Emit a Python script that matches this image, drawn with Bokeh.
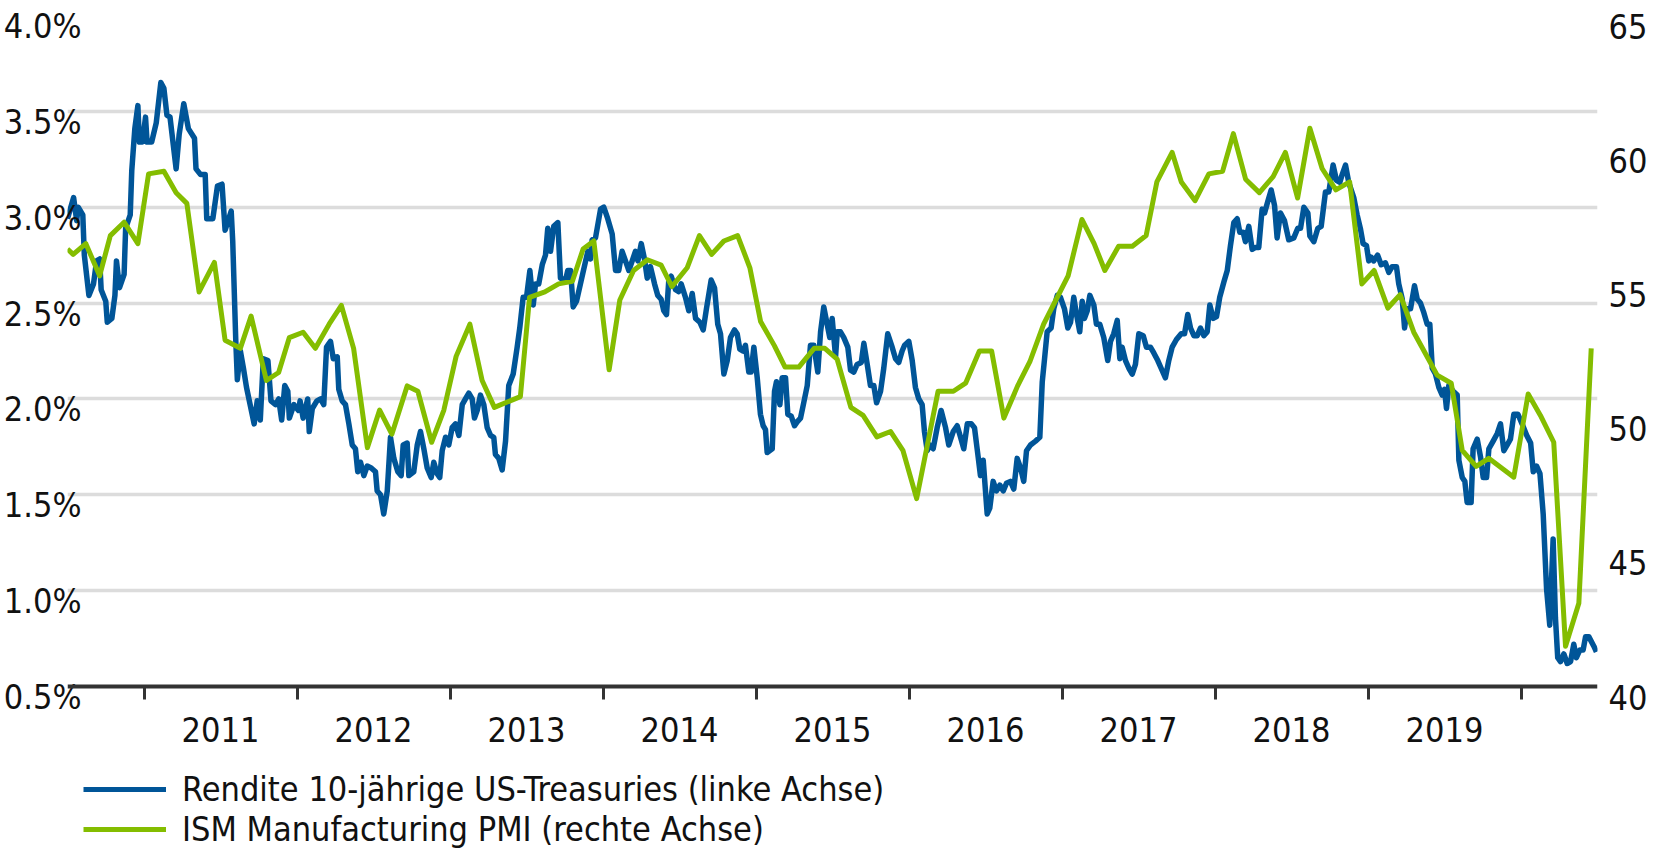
from bokeh.plotting import figure
from bokeh.layouts import column
from bokeh.models import (Range1d, LinearAxis, FixedTicker, CustomJSTickFormatter,
                          Legend, LegendItem, Span)
from bokeh.embed import file_html
from bokeh.resources import INLINE

# ---------------- data ----------------
# 10-year US Treasury yield (weekly, %), x = decimal year
yield_year = [
    2010.500, 2010.540, 2010.560, 2010.570, 2010.600, 2010.610, 2010.640, 2010.670, 2010.690, 2010.710,
    2010.720, 2010.750, 2010.760, 2010.790, 2010.810, 2010.820, 2010.840, 2010.870, 2010.880, 2010.910,
    2010.920, 2010.940, 2010.960, 2010.970, 2010.990, 2011.010, 2011.020, 2011.050, 2011.080, 2011.110,
    2011.130, 2011.150, 2011.170, 2011.210, 2011.230, 2011.260, 2011.290, 2011.330, 2011.340, 2011.370,
    2011.400, 2011.410, 2011.450, 2011.480, 2011.510, 2011.530, 2011.570, 2011.580, 2011.600, 2011.610,
    2011.630, 2011.650, 2011.670, 2011.720, 2011.740, 2011.760, 2011.780, 2011.810, 2011.830, 2011.860,
    2011.880, 2011.900, 2011.920, 2011.940, 2011.950, 2011.980, 2012.010, 2012.020, 2012.040, 2012.070,
    2012.080, 2012.100, 2012.130,
    2012.154, 2012.175, 2012.193, 2012.219, 2012.237, 2012.263, 2012.273, 2012.295, 2012.317, 2012.339,
    2012.361, 2012.382, 2012.397, 2012.415, 2012.437, 2012.459, 2012.485, 2012.513, 2012.524, 2012.546,
    2012.567, 2012.590, 2012.611, 2012.633, 2012.659, 2012.681, 2012.694, 2012.720, 2012.731, 2012.763,
    2012.786, 2012.807, 2012.829, 2012.851, 2012.877, 2012.894, 2012.916, 2012.933, 2012.949, 2012.971,
    2012.992, 2013.014, 2013.036, 2013.058, 2013.080, 2013.101, 2013.123, 2013.145, 2013.160, 2013.178,
    2013.199, 2013.221, 2013.243, 2013.265, 2013.286, 2013.297, 2013.319, 2013.341, 2013.363, 2013.384,
    2013.413, 2013.439, 2013.456, 2013.478, 2013.500, 2013.522, 2013.544, 2013.559, 2013.580, 2013.603,
    2013.624, 2013.639, 2013.657, 2013.678, 2013.705, 2013.722, 2013.755, 2013.770, 2013.788, 2013.805,
    2013.827,
    2013.875, 2013.901, 2013.918, 2013.929, 2013.951, 2013.984, 2014.005, 2014.031, 2014.060, 2014.082,
    2014.103, 2014.125, 2014.147, 2014.169, 2014.191, 2014.212, 2014.228, 2014.250, 2014.271, 2014.289,
    2014.310, 2014.337, 2014.358, 2014.380, 2014.397, 2014.415, 2014.430, 2014.446, 2014.474, 2014.495,
    2014.511, 2014.539, 2014.561, 2014.583, 2014.605, 2014.633, 2014.655, 2014.676, 2014.707, 2014.729,
    2014.750, 2014.768, 2014.790, 2014.812, 2014.833, 2014.859, 2014.877, 2014.894, 2014.916, 2014.931,
    2014.953, 2014.968, 2014.986, 2015.008, 2015.029, 2015.047, 2015.062, 2015.073, 2015.106, 2015.121,
    2015.134, 2015.156, 2015.171, 2015.193, 2015.208, 2015.230, 2015.252, 2015.269, 2015.291, 2015.312,
    2015.335, 2015.356, 2015.378, 2015.404, 2015.422, 2015.443, 2015.465, 2015.482, 2015.498, 2015.520,
    2015.531,
    2015.552, 2015.574, 2015.600, 2015.618, 2015.639, 2015.661, 2015.688, 2015.705, 2015.727, 2015.748,
    2015.770, 2015.788, 2015.814, 2015.835, 2015.861, 2015.890, 2015.912, 2015.933, 2015.955, 2015.971,
    2015.999, 2016.021, 2016.042, 2016.064, 2016.086, 2016.101, 2016.119, 2016.136, 2016.158, 2016.184,
    2016.210, 2016.239, 2016.260, 2016.289, 2016.315, 2016.337, 2016.358, 2016.381, 2016.407, 2016.428,
    2016.450, 2016.467, 2016.485, 2016.511, 2016.528, 2016.550, 2016.572, 2016.594, 2016.616, 2016.637,
    2016.663, 2016.685, 2016.707, 2016.729, 2016.750, 2016.768, 2016.794, 2016.827, 2016.855, 2016.871,
    2016.886, 2016.903, 2016.929, 2016.946, 2016.969,
    2016.990, 2017.016, 2017.038, 2017.056, 2017.077, 2017.095, 2017.116, 2017.132, 2017.147, 2017.165,
    2017.182, 2017.208, 2017.225, 2017.247, 2017.273, 2017.299, 2017.317, 2017.338, 2017.361, 2017.378,
    2017.393, 2017.415, 2017.437, 2017.459, 2017.480, 2017.502, 2017.531, 2017.552, 2017.578, 2017.600,
    2017.626, 2017.648, 2017.676, 2017.698, 2017.720, 2017.748, 2017.779, 2017.801, 2017.822, 2017.840,
    2017.862, 2017.884, 2017.905, 2017.927, 2017.949, 2017.966, 2017.988, 2018.010, 2018.031, 2018.058,
    2018.080, 2018.101, 2018.123, 2018.145, 2018.162, 2018.184, 2018.199, 2018.221, 2018.243, 2018.265,
    2018.286, 2018.308, 2018.324, 2018.345, 2018.367, 2018.389, 2018.406, 2018.428, 2018.454, 2018.482,
    2018.515, 2018.541,
    2018.559, 2018.581, 2018.607, 2018.620, 2018.646, 2018.672, 2018.694, 2018.722, 2018.744, 2018.772,
    2018.794, 2018.816, 2018.831, 2018.853, 2018.874, 2018.907, 2018.929, 2018.950, 2018.968, 2018.990,
    2019.005, 2019.020, 2019.037, 2019.063, 2019.086, 2019.114, 2019.136, 2019.158, 2019.186, 2019.201,
    2019.224, 2019.239, 2019.256, 2019.278, 2019.304, 2019.322, 2019.343, 2019.365, 2019.387, 2019.404,
    2019.420, 2019.441, 2019.463, 2019.485, 2019.500, 2019.513, 2019.528, 2019.557, 2019.583, 2019.594,
    2019.616, 2019.633, 2019.648, 2019.674, 2019.687, 2019.714, 2019.735, 2019.753, 2019.775, 2019.790,
    2019.818, 2019.845, 2019.866, 2019.888, 2019.910, 2019.931, 2019.953, 2019.980, 2020.007, 2020.037,
    2020.063, 2020.080, 2020.102, 2020.124, 2020.145, 2020.167, 2020.188, 2020.210, 2020.225, 2020.240,
    2020.258, 2020.280, 2020.302, 2020.324, 2020.345, 2020.362, 2020.384, 2020.406, 2020.422, 2020.443,
    2020.476, 2020.493,
]
yield_pct = [
    2.94, 3.05, 2.93, 3.00, 2.96, 2.75, 2.54, 2.60, 2.72, 2.73,
    2.57, 2.51, 2.40, 2.42, 2.54, 2.72, 2.58, 2.65, 2.89, 2.96,
    3.19, 3.41, 3.53, 3.34, 3.34, 3.47, 3.34, 3.34, 3.44, 3.65,
    3.62, 3.48, 3.47, 3.20, 3.38, 3.54, 3.41, 3.36, 3.20, 3.17,
    3.17, 2.94, 2.94, 3.11, 3.12, 2.88, 2.98, 2.82, 2.30, 2.10,
    2.25, 2.16, 2.06, 1.87, 1.99, 1.89, 2.21, 2.20, 1.99, 1.97,
    2.00, 1.89, 2.07, 2.04, 1.90, 1.97, 1.94, 1.99, 1.90, 2.00,
    1.83, 1.95, 1.99,
    2.00, 1.97, 2.27, 2.30, 2.21, 2.22, 2.05, 1.99, 1.97, 1.87,
    1.76, 1.74, 1.62, 1.67, 1.60, 1.65, 1.64, 1.62, 1.52, 1.50,
    1.40, 1.52, 1.80, 1.69, 1.62, 1.60, 1.76, 1.77, 1.60, 1.62,
    1.76, 1.83, 1.74, 1.64, 1.59, 1.67, 1.61, 1.59, 1.73, 1.80,
    1.76, 1.85, 1.87, 1.81, 1.97, 2.00, 2.03, 2.00, 1.90, 1.94,
    2.02, 1.97, 1.85, 1.81, 1.80, 1.71, 1.69, 1.63, 1.78, 2.07,
    2.13, 2.27, 2.37, 2.53, 2.53, 2.67, 2.49, 2.60, 2.60, 2.70,
    2.75, 2.89, 2.77, 2.90, 2.92, 2.63, 2.62, 2.67, 2.67, 2.48,
    2.51,
    2.68, 2.77, 2.73, 2.83, 2.84, 2.99, 3.00, 2.94, 2.86, 2.67,
    2.67, 2.77, 2.72, 2.67, 2.72, 2.77, 2.72, 2.81, 2.73, 2.63,
    2.69, 2.60, 2.54, 2.52, 2.46, 2.44, 2.62, 2.64, 2.57, 2.56,
    2.60, 2.53, 2.46, 2.55, 2.42, 2.40, 2.36, 2.47, 2.62, 2.58,
    2.39, 2.34, 2.13, 2.20, 2.32, 2.36, 2.34, 2.26, 2.25, 2.28,
    2.14, 2.14, 2.27, 2.11, 1.92, 1.86, 1.84, 1.72, 1.74, 2.04,
    2.09, 1.97, 2.11, 2.11, 1.92, 1.91, 1.86, 1.88, 1.90, 1.98,
    2.07, 2.28, 2.28, 2.14, 2.35, 2.48, 2.39, 2.32, 2.42, 2.22,
    2.35,
    2.35, 2.32, 2.27, 2.15, 2.14, 2.18, 2.19, 2.29, 2.18, 2.07,
    2.07, 1.98, 2.04, 2.16, 2.34, 2.27, 2.21, 2.19, 2.25, 2.28,
    2.30, 2.20, 2.06, 2.00, 1.97, 1.83, 1.73, 1.76, 1.74, 1.85,
    1.94, 1.85, 1.76, 1.83, 1.86, 1.80, 1.74, 1.87, 1.87, 1.85,
    1.71, 1.60, 1.68, 1.40, 1.43, 1.57, 1.52, 1.55, 1.52, 1.56,
    1.57, 1.53, 1.69, 1.64, 1.57, 1.73, 1.76, 1.78, 1.80, 2.09,
    2.21, 2.35, 2.37, 2.47, 2.54,
    2.53, 2.47, 2.37, 2.40, 2.53, 2.44, 2.35, 2.51, 2.42, 2.46,
    2.54, 2.49, 2.39, 2.39, 2.32, 2.20, 2.30, 2.34, 2.41, 2.21,
    2.27, 2.20, 2.16, 2.13, 2.18, 2.34, 2.33, 2.27, 2.27, 2.24,
    2.20, 2.16, 2.11, 2.20, 2.27, 2.31, 2.34, 2.34, 2.44, 2.37,
    2.33, 2.33, 2.37, 2.33, 2.35, 2.49, 2.42, 2.43, 2.53, 2.61,
    2.67, 2.80, 2.92, 2.94, 2.87, 2.87, 2.82, 2.90, 2.78, 2.79,
    2.79, 2.99, 2.97, 3.03, 3.09, 3.01, 2.84, 2.97, 2.93, 2.83,
    2.84, 2.89,
    2.89, 3.00, 2.97, 2.85, 2.82, 2.89, 2.90, 3.08, 3.08, 3.22,
    3.14, 3.13, 3.17, 3.22, 3.13, 3.05, 2.96, 2.89, 2.81, 2.80,
    2.72, 2.74, 2.72, 2.75, 2.70, 2.71, 2.66, 2.69, 2.69, 2.60,
    2.52, 2.37, 2.47, 2.47, 2.59, 2.52, 2.50, 2.45, 2.39, 2.39,
    2.16, 2.13, 2.06, 2.02, 2.05, 1.95, 2.07, 2.04, 2.02, 1.68,
    1.59, 1.57, 1.46, 1.46, 1.74, 1.79, 1.70, 1.59, 1.59, 1.74,
    1.78, 1.82, 1.87, 1.73, 1.76, 1.79, 1.92, 1.92, 1.87, 1.81,
    1.77, 1.62, 1.65, 1.61, 1.40, 1.01, 0.82, 1.27, 0.86, 0.65,
    0.63, 0.67, 0.62, 0.63, 0.72, 0.65, 0.69, 0.69, 0.76, 0.76,
    0.71, 0.68,
]

# ISM Manufacturing PMI (monthly, index), x = decimal year
pmi_year = [
    2010.500, 2010.537, 2010.620, 2010.710, 2010.780, 2010.870, 2010.960, 2011.030, 2011.130, 2011.210,
    2011.280, 2011.360, 2011.460, 2011.530, 2011.630, 2011.700, 2011.800, 2011.880, 2011.950, 2012.040,
    2012.120, 2012.210, 2012.290, 2012.370, 2012.460, 2012.540, 2012.620, 2012.720, 2012.790, 2012.880,
    2012.960, 2013.040, 2013.130, 2013.210, 2013.290, 2013.460, 2013.520, 2013.620, 2013.710, 2013.800,
    2013.870, 2013.940, 2014.040, 2014.110, 2014.200, 2014.290, 2014.380, 2014.450, 2014.550, 2014.630,
    2014.710, 2014.790, 2014.880, 2014.960, 2015.030, 2015.120, 2015.190, 2015.280, 2015.380, 2015.450,
    2015.530, 2015.620, 2015.700, 2015.790, 2015.880, 2015.960, 2016.050, 2016.120, 2016.190, 2016.290,
    2016.370, 2016.460, 2016.540, 2016.620, 2016.710, 2016.790, 2016.880, 2016.960, 2017.040, 2017.130,
    2017.210, 2017.280, 2017.370, 2017.460, 2017.550, 2017.620, 2017.720, 2017.780, 2017.870, 2017.960,
    2018.050, 2018.120, 2018.200, 2018.290, 2018.380, 2018.460, 2018.540, 2018.620, 2018.700, 2018.790,
    2018.880, 2018.960, 2019.040, 2019.130, 2019.210, 2019.299, 2019.376, 2019.452, 2019.544, 2019.616,
    2019.707, 2019.789, 2019.953, 2020.047, 2020.127, 2020.214, 2020.291, 2020.378, 2020.459,
]
pmi_value = [
    56.3, 56.1, 56.5, 55.3, 56.8, 57.3, 56.5, 59.1, 59.2, 58.4,
    58.0, 54.7, 55.8, 52.9, 52.6, 53.8, 51.4, 51.7, 53.0, 53.2,
    52.6, 53.5, 54.2, 52.6, 48.9, 50.3, 49.4, 51.2, 51.0, 49.1,
    50.3, 52.3, 53.5, 51.4, 50.4, 50.8, 54.5, 54.7, 55.0, 55.1,
    56.3, 56.6, 51.8, 54.4, 55.5, 55.9, 55.7, 54.9, 55.6, 56.8,
    56.1, 56.6, 56.8, 55.6, 53.6, 52.7, 51.9, 51.9, 52.6, 52.6,
    52.2, 50.4, 50.1, 49.3, 49.5, 48.8, 47.0, 49.0, 51.0, 51.0,
    51.3, 52.5, 52.5, 50.0, 51.2, 52.1, 53.5, 54.4, 55.3, 57.4,
    56.5, 55.5, 56.4, 56.4, 56.8, 58.8, 59.9, 58.8, 58.1, 59.1,
    59.2, 60.6, 58.9, 58.4, 59.0, 59.9, 58.2, 60.8, 59.3, 58.5,
    58.8, 55.0, 55.5, 54.1, 54.6, 53.2, 52.4, 51.6, 51.3, 48.8,
    48.2, 48.5, 47.8, 50.9, 50.1, 49.1, 41.5, 43.1, 52.6,
]

left_ticks = [0.5, 1.0, 1.5, 2.0, 2.5, 3.0, 3.5, 4.0]
right_ticks = [40, 45, 50, 55, 60, 65]
year_bounds = [2011, 2012, 2013, 2014, 2015, 2016, 2017, 2018, 2019, 2020]
year_label_pos = [2011.5, 2012.5, 2013.5, 2014.5, 2015.5, 2016.5, 2017.5, 2018.5, 2019.5]

label_blue = "Rendite 10-jährige US-Treasuries (linke Achse)"
label_green = "ISM Manufacturing PMI (rechte Achse)"

# ---------------- styling ----------------
FONT = "'DejaVu Sans Condensed', 'DejaVu Sans', sans-serif"
FS = "34px"
BLUE = "#005598"
GREEN = "#84bd00"
DARK = "#333333"
GRID = "#dcdcdc"
TXT = "#111111"

PX_PER_PCT = 671 / 3.5          # 0.5 .. 4.0 % spans 671 px
LABEL_DROP_PX = 10.5            # tick labels sit slightly below their gridline
TICK_PX = 13                    # year ticks hang below the 0.5 % axis line
drop_left = LABEL_DROP_PX / PX_PER_PCT
ext_left = TICK_PX / PX_PER_PCT
k_right = 25 / 3.5              # PMI units per percentage point

y_lo = left_ticks[0] - ext_left
y_hi = left_ticks[-1]
r_lo = right_ticks[0] - ext_left * k_right
r_hi = right_ticks[-1]

p = figure(frame_width=1530, frame_height=684, output_backend="svg", toolbar_location=None,
           x_range=Range1d(2010.5, 2020.5), y_range=Range1d(y_lo, y_hi),
           min_border_left=59, min_border_right=40, min_border_top=15, min_border_bottom=57)
p.extra_y_ranges = {"pmi": Range1d(r_lo, r_hi)}
p.outline_line_color = None
p.background_fill_color = "white"
p.border_fill_color = "white"

# grid (true positions)
p.xgrid.visible = False
p.ygrid.ticker = FixedTicker(ticks=left_ticks[1:])
p.ygrid.grid_line_color = GRID
p.ygrid.grid_line_width = 3.5

# left axis (labels slightly below gridlines)
ya = p.yaxis[0]
ya.ticker = FixedTicker(ticks=[t - drop_left for t in left_ticks])
ya.formatter = CustomJSTickFormatter(code="return (Math.round(tick*2)/2).toFixed(1) + '%';")
ya.axis_line_color = None
ya.major_tick_line_color = None
ya.minor_tick_line_color = None
ya.major_tick_out = 0
ya.major_tick_in = 0
ya.minor_tick_out = 0
ya.minor_tick_in = 0
ya.major_label_standoff = -14
ya.major_label_text_font = FONT
ya.major_label_text_font_size = FS
ya.major_label_text_color = TXT

# right axis
ra = LinearAxis(y_range_name="pmi")
ra.ticker = FixedTicker(ticks=[t - drop_left * k_right for t in right_ticks])
ra.formatter = CustomJSTickFormatter(code="return String(Math.round(tick/5)*5);")
ra.axis_line_color = None
ra.major_tick_line_color = None
ra.minor_tick_line_color = None
ra.major_tick_out = 0
ra.major_tick_in = 0
ra.minor_tick_out = 0
ra.minor_tick_in = 0
ra.axis_label_standoff = 0
ra.axis_label_text_font_size = "0px"
ra.major_label_standoff = 11
ra.major_label_text_font = FONT
ra.major_label_text_font_size = FS
ra.major_label_text_color = TXT
p.add_layout(ra, "right")

# bottom axis: ticks reach up from the frame edge to the 0.5 % line
xa = p.xaxis[0]
xa.ticker = FixedTicker(ticks=year_label_pos, minor_ticks=year_bounds)
xa.formatter = CustomJSTickFormatter(code="return String(Math.floor(tick));")
xa.axis_line_color = None
xa.major_tick_line_color = None
xa.major_tick_out = 0
xa.major_tick_in = 0
xa.minor_tick_line_color = DARK
xa.minor_tick_line_width = 3
xa.minor_tick_in = TICK_PX
xa.minor_tick_out = 0
xa.major_label_standoff = 17
xa.major_label_text_font = FONT
xa.major_label_text_font_size = FS
xa.major_label_text_color = TXT

# axis line at 0.5 %
p.add_layout(Span(location=left_ticks[0], dimension="width", line_color=DARK, line_width=4))

# lines
p.line(yield_year, yield_pct, line_color=BLUE, line_width=5.5, line_join="round")
p.line(pmi_year, pmi_value, line_color=GREEN, line_width=5, line_join="round",
       y_range_name="pmi")

# ---------------- legend (own strip below the chart) ----------------
pl = figure(width=1645, height=95, output_backend="svg", toolbar_location=None,
            x_axis_type=None, y_axis_type=None, x_range=Range1d(0, 1), y_range=Range1d(0, 1),
            min_border=0)
pl.outline_line_color = None
pl.background_fill_color = "white"
pl.border_fill_color = "white"
for g in pl.grid:
    g.visible = False
# swatch renderers (their single point lies outside this strip's ranges)
lb = pl.line(x=yield_year[:1], y=yield_pct[:1], line_color=BLUE, line_width=5)
lg = pl.line(x=pmi_year[:1], y=pmi_value[:1], line_color=GREEN, line_width=5)
legend = Legend(items=[LegendItem(label=label_blue, renderers=[lb]),
                       LegendItem(label=label_green, renderers=[lg])],
                location=(16, 2), orientation="vertical")
legend.label_text_font = FONT
legend.label_text_font_size = FS
legend.label_text_color = TXT
legend.glyph_width = 83
legend.glyph_height = 40
legend.label_height = 40
legend.label_standoff = 16
legend.spacing = 0
legend.padding = 0
legend.margin = 0
legend.border_line_color = None
legend.background_fill_alpha = 0
pl.add_layout(legend)

layout = column(p, pl, spacing=0)
open("out.html", "w").write(file_html(layout, INLINE))
